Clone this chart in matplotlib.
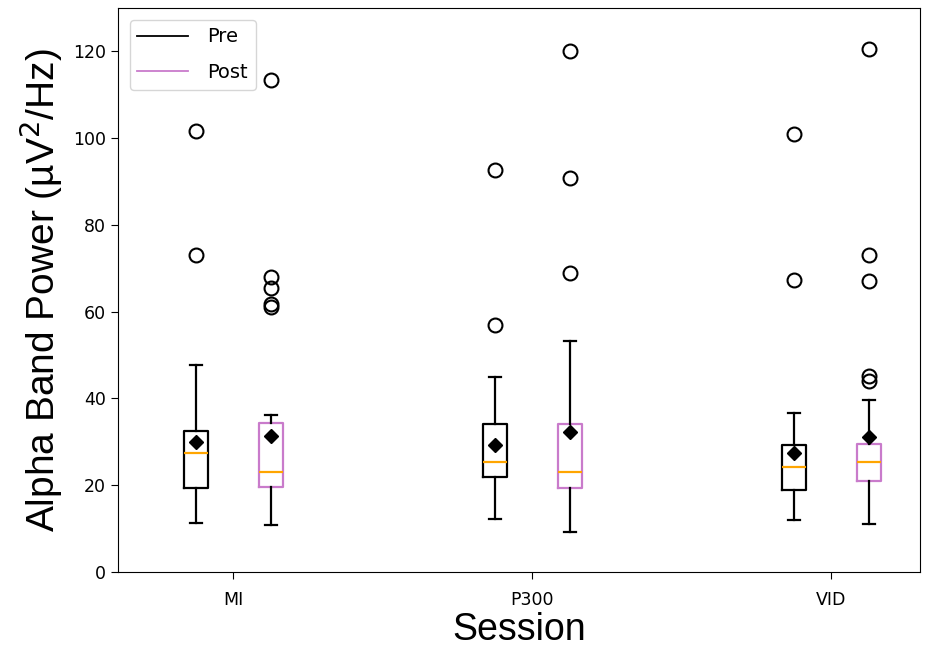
import matplotlib.pyplot as plt
from matplotlib.lines import Line2D

sessions = ["MI", "P300", "VID"]

# box stats (uV^2/Hz)
pre_whislo = [11.3, 12.2, 12.0]
pre_q1 = [19.4, 21.9, 18.8]
pre_med = [27.5, 25.4, 24.3]
pre_q3 = [32.6, 34.2, 29.2]
pre_whishi = [47.7, 45.0, 36.7]
pre_mean = [30.0, 29.3, 27.5]
pre_fliers = [[73.0, 101.7], [57.0, 92.7], [67.2, 101.0]]

post_whislo = [10.8, 9.3, 11.1]
post_q1 = [19.5, 19.4, 21.0]
post_med = [23.1, 23.1, 25.4]
post_q3 = [34.3, 34.0, 29.4]
post_whishi = [36.2, 53.3, 39.7]
post_mean = [31.3, 32.2, 31.2]
post_fliers = [[61.0, 61.8, 65.5, 68.0, 113.5], [69.0, 90.8, 120.1], [44.0, 45.2, 67.0, 73.1, 120.6]]

pre_color = "black"
post_color = "#c97bcb"


def make_stats(whislo, q1, med, q3, whishi, mean, fliers):
    return [dict(whislo=a, q1=b, med=c, q3=d, whishi=e, mean=f, fliers=g)
            for a, b, c, d, e, f, g in zip(whislo, q1, med, q3, whishi, mean, fliers)]


fig = plt.figure(figsize=(9.33, 6.52), dpi=100)
ax = fig.add_axes([0.1265, 0.1227, 0.86, 0.865])

x = [1, 2, 3]
offset = 0.125
width = 0.08


def draw(stats, pos, color):
    ax.bxp(stats, positions=pos, widths=width, showmeans=True, manage_ticks=False,
           boxprops=dict(color=color, linewidth=1.6),
           whiskerprops=dict(color="black", linewidth=1.6),
           capprops=dict(color="black", linewidth=1.6),
           medianprops=dict(color="orange", linewidth=1.6),
           meanprops=dict(marker="D", markerfacecolor="black", markeredgecolor="black", markersize=7),
           flierprops=dict(marker="o", markerfacecolor="none", markeredgecolor="black",
                           markersize=10, markeredgewidth=1.5))


draw(make_stats(pre_whislo, pre_q1, pre_med, pre_q3, pre_whishi, pre_mean, pre_fliers),
     [p - offset for p in x], pre_color)
draw(make_stats(post_whislo, post_q1, post_med, post_q3, post_whishi, post_mean, post_fliers),
     [p + offset for p in x], post_color)

ax.set_xlim(0.615, 3.298)
ax.set_ylim(0, 130)
ax.set_xticks(x)
ax.set_xticklabels(sessions)
ax.set_yticks(range(0, 121, 20))
ax.tick_params(labelsize=12.5, length=5)
ax.tick_params(axis="x", pad=9)

ax.set_xlabel("Session", fontsize=27, family="Liberation Sans", labelpad=2)
ax.set_ylabel("Alpha Band Power (µV$^2$/Hz)", fontsize=28, family="Liberation Sans", labelpad=6)

handles = [Line2D([], [], color=pre_color, linewidth=1.3), Line2D([], [], color=post_color, linewidth=1.3)]
ax.legend(handles, ["Pre", "Post"], loc="upper left", fontsize=14, handlelength=2.6,
          handletextpad=1.0, labelspacing=0.85, borderaxespad=0.6)

fig.savefig("out.png", dpi=100)
